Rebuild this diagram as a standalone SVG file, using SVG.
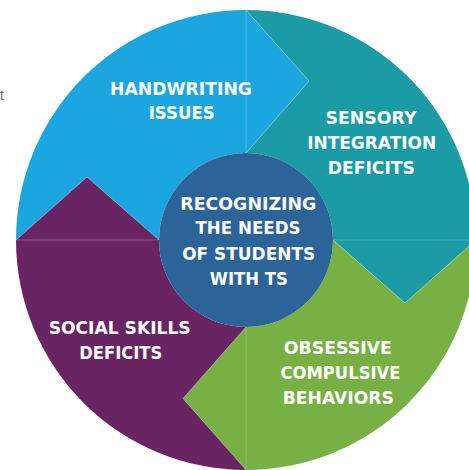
<svg xmlns="http://www.w3.org/2000/svg" width="469" height="470" viewBox="0 0 469 470">
  <style>
    .lbl { fill: #ffffff; font-family: "DejaVu Sans", "Liberation Sans", sans-serif; font-weight: bold; font-size: 17.2px; text-anchor: middle; }
    .seam { fill: none; stroke: #ffffff; stroke-opacity: 0.3; stroke-width: 0.8; }
  </style>
  <rect x="0" y="0" width="469" height="470" fill="#ffffff"/>
  <text x="0" y="100" font-family="Liberation Sans, sans-serif" font-size="14" fill="#6d6e71">t</text>

  <g id="handwriting">
    <path d="M16,240 A230,230 0 0 1 246,10 L309,81 L246,153 A87,87 0 0 0 159,240 L87,177 Z" fill="#1BA6DF"/>
    <text class="lbl" x="181" y="95" textLength="142" lengthAdjust="spacingAndGlyphs">HANDWRITING</text>
    <text class="lbl" x="181.7" y="119.3" textLength="66" lengthAdjust="spacingAndGlyphs">ISSUES</text>
  </g>
  <g id="sensory">
    <path d="M246,10 A230,230 0 0 1 476,240 L405,303 L333,240 A87,87 0 0 0 246,153 L309,81 Z" fill="#1A9BA6"/>
    <text class="lbl" x="371" y="124" textLength="91" lengthAdjust="spacingAndGlyphs">SENSORY</text>
    <text class="lbl" x="371.7" y="148.7" textLength="129" lengthAdjust="spacingAndGlyphs">INTEGRATION</text>
    <text class="lbl" x="371.3" y="174" textLength="87" lengthAdjust="spacingAndGlyphs">DEFICITS</text>
  </g>
  <g id="obsessive">
    <path d="M476,240 A230,230 0 0 1 246,470 L183,398.5 L246,327 A87,87 0 0 0 333,240 L405,303 Z" fill="#77B043"/>
    <text class="lbl" x="337.8" y="354" textLength="108" lengthAdjust="spacingAndGlyphs">OBSESSIVE</text>
    <text class="lbl" x="340.5" y="379.3" textLength="120" lengthAdjust="spacingAndGlyphs">COMPULSIVE</text>
    <text class="lbl" x="338.3" y="404" textLength="111" lengthAdjust="spacingAndGlyphs">BEHAVIORS</text>
  </g>
  <g id="social">
    <path d="M246,470 A230,230 0 0 1 16,240 L87,177 L159,240 A87,87 0 0 0 246,327 L183,398.5 Z" fill="#692463"/>
    <text class="lbl" x="119.7" y="334.3" textLength="142" lengthAdjust="spacingAndGlyphs">SOCIAL SKILLS</text>
    <text class="lbl" x="120.8" y="359.3" textLength="83" lengthAdjust="spacingAndGlyphs">DEFICITS</text>
  </g>

  <g id="connectors">
    <path class="seam" d="M246,10 L309,81 L246,153 Z"/>
    <path class="seam" d="M333,240 L405,303 L476,240 Z"/>
    <path class="seam" d="M246,327 L183,398.5 L246,470 Z"/>
    <path class="seam" d="M159,240 L87,177 L16,240 Z"/>
  </g>

  <g id="center">
    <circle cx="246" cy="240" r="87" fill="#2C6399"/>
    <text class="lbl" x="248.3" y="210" textLength="136" lengthAdjust="spacingAndGlyphs">RECOGNIZING</text>
    <text class="lbl" x="248" y="234.3" textLength="105" lengthAdjust="spacingAndGlyphs">THE NEEDS</text>
    <text class="lbl" x="248.7" y="260" textLength="133" lengthAdjust="spacingAndGlyphs">OF STUDENTS</text>
    <text class="lbl" x="248.8" y="285" textLength="78" lengthAdjust="spacingAndGlyphs">WITH TS</text>
  </g>
</svg>
